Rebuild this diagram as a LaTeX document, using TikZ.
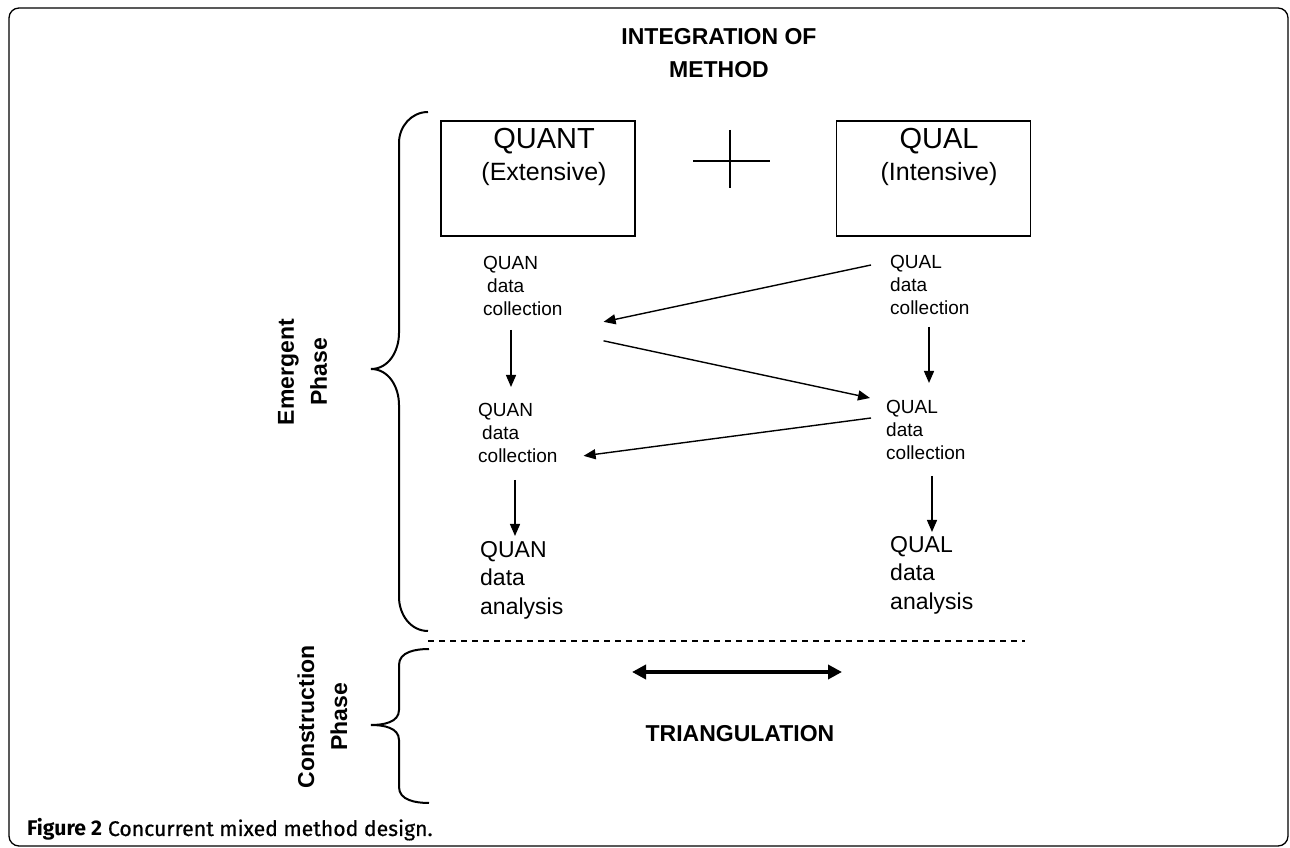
\documentclass[tikz,border=0pt]{standalone}
\usepackage{fontspec}
\setmainfont{Liberation Sans}
\newfontfamily\capfont{Fira Sans}
\newfontfamily\capsemi{Fira Sans}[FakeBold=0.6]
\usetikzlibrary{arrows.meta,positioning}
\tikzset{
	methodbox/.style={draw,line width=1.3pt,minimum width=194pt,minimum height=115pt,inner sep=0pt},
	boxlabel/.style={anchor=north,align=center,inner sep=0pt,font=\fontsize{25}{32}\selectfont},
	smalltxt/.style={anchor=north west,align=left,inner sep=0pt,font=\fontsize{19}{23}\selectfont},
	bigtxt/.style={anchor=north west,align=left,inner sep=0pt,font=\fontsize{23}{28.5}\selectfont},
	headtxt/.style={align=center,inner sep=0pt,font=\bfseries\fontsize{23}{33}\selectfont},
	flow/.style={-{Triangle[length=12pt,width=10pt]},line width=1.4pt},
	bothways/.style={{Triangle[length=14pt,width=14pt]}-{Triangle[length=14pt,width=14pt]},line width=4pt},
	bracepath/.style={line width=2pt}
}
\begin{document}
\begin{tikzpicture}[x=1pt,y=1pt]
	\useasboundingbox (0,0) rectangle (1290,848);
	\draw[line width=1.3pt,rounded corners=10pt] (9,2) rectangle (1288,840);
	\node (title) [headtxt,anchor=north] at (719,820) {INTEGRATION OF\\METHOD};
	\node (quant) [methodbox] at (538,669.5) {};
	\node (qual) [methodbox] at (933.5,669.5) {};
	\node (quanttxt) [boxlabel] at (544,720) {{\fontsize{29}{32}\selectfont QUANT}\\(Extensive)};
	\node (qualtxt) [boxlabel] at (939,720) {{\fontsize{29}{32}\selectfont QUAL}\\(Intensive)};
	\draw[line width=1.2pt] (693,687) -- (770,687) (730,718) -- (730,660);
	\node (quan1) [smalltxt] at (483,592) {QUAN\\\hspace{4pt}data\\collection};
	\node (qual1) [smalltxt] at (890,593) {QUAL\\data\\collection};
	\node (quan2) [smalltxt] at (478,445) {QUAN\\\hspace{4pt}data\\collection};
	\node (qual2) [smalltxt] at (886,448) {QUAL\\data\\collection};
	\node (quanan) [bigtxt] at (480,307) {QUAN\\data\\analysis};
	\node (qualan) [bigtxt] at (890,312) {QUAL\\data\\analysis};
	\draw[flow] ([shift={(28,-14)}]quan1.south west) -- ([shift={(33,16)}]quan2.north west);
	\draw[flow] ([shift={(39,-12)}]qual1.south west) -- ([shift={(43,17)}]qual2.north west);
	\draw[flow] ([shift={(37,-17)}]quan2.south west) -- ([shift={(35,5)}]quanan.north west);
	\draw[flow] ([shift={(46,-16)}]qual2.south west) -- ([shift={(42,4)}]qualan.north west);
	\draw[flow] ([shift={(-19,-10)}]qual1.north west) -- ([shift={(41,-6)}]quan1.south east);
	\draw[flow] ([shift={(41,-25)}]quan1.south east) -- ([shift={(-16,2)}]qual2.north west);
	\draw[flow] ([shift={(-15,-18)}]qual2.north west) -- ([shift={(26,7)}]quan2.south east);
	\draw[line width=1.2pt,dash pattern=on 6pt off 5pt] (428,207) -- (1025,207);
	\draw[bracepath] (428,736) to[out=180,in=90] (399,705) -- (399,515) to[out=-90,in=0] (371,479) to[out=0,in=90] (399,443) -- (399,251) to[out=-90,in=180] (428,217);
	\draw[bracepath] (429,199) to[out=180,in=90] (399,183) -- (399,138) to[out=-90,in=0] (371,123) to[out=0,in=90] (399,108) -- (399,61) to[out=-90,in=180] (429,45);
	\node (emergent) [headtxt,rotate=90] at (302.5,476) {Emergent\\Phase};
	\node (construction) [headtxt,rotate=90] at (322.5,131) {Construction\\Phase};
	\coordinate (trileft) at (632,176);
	\coordinate (triright) at (842,176);
	\draw[bothways] (trileft) -- (triright);
	\node (triang) [anchor=base,inner sep=0pt,font=\bfseries\fontsize{23}{28}\selectfont] at (740,106) {TRIANGULATION};
	\node (caption) [anchor=base west,inner sep=0pt,font=\fontsize{21.2}{25}\selectfont] at (27,12) {{\capfont\bfseries Figure 2} \capsemi Concurrent mixed method design.};
\end{tikzpicture}
\end{document}
